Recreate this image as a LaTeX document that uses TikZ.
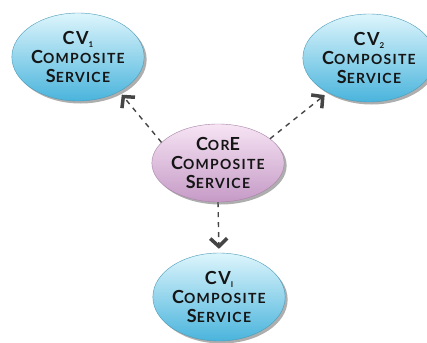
\documentclass[tikz,border=0pt]{standalone}
\usepackage{fontspec}
\setmainfont{Lato}
\newfontfamily\lsfont[LetterSpace=9]{Lato}
\usetikzlibrary{shapes.geometric,arrows.meta,shadows}
\definecolor{txt}{HTML}{151515}
\definecolor{arr}{HTML}{454545}
\definecolor{bluetop}{HTML}{DDF5FC}
\definecolor{bluebot}{HTML}{4AB4DC}
\definecolor{bluerim}{HTML}{4A9CB8}
\definecolor{pinktop}{HTML}{F6E4F4}
\definecolor{pinkbot}{HTML}{C59AC6}
\definecolor{pinkrim}{HTML}{A883A8}
\newcommand{\Bg}[1]{{\fontsize{18}{19}\selectfont #1}}
\newcommand{\Sml}[1]{{\fontsize{14}{19}\selectfont #1}}
\newcommand{\Sub}[1]{\raisebox{-2.5pt}{\fontsize{8}{8}\selectfont #1}}
\newcommand{\Comp}{\Bg{C}\Sml{OMPOSITE}}
\newcommand{\Serv}{\Bg{S}\Sml{ERVICE}}
\tikzset{
  svc/.style={ellipse, inner sep=0pt, align=center, text=txt,
    font=\lsfont\bfseries\fontsize{14}{19}\selectfont,
    line width=0.4pt,
    drop shadow={shadow xshift=2.5pt, shadow yshift=-2.5pt, opacity=0.45, fill=black!70}},
  bluesvc/.style={svc, draw=bluerim, top color=bluetop, bottom color=bluebot,
    minimum width=126pt, minimum height=88pt},
  pinksvc/.style={svc, draw=pinkrim, top color=pinktop, bottom color=pinkbot,
    minimum width=122pt, minimum height=78pt},
  conn/.style={draw=arr, line width=1.4pt, dash pattern=on 5pt off 5pt,
    shorten >=4pt,
    -{Straight Barb[length=8pt, width=17pt, line width=3.5pt]}}
}
\begin{document}
\begin{tikzpicture}[x=1pt,y=-1pt]
\useasboundingbox[fill=white] (0,0) rectangle (427,342);
\node[bluesvc] (cv1) at (78,57) {\Bg{CV}\Sub{1}\\\Comp\\\Serv};
\node[bluesvc] (cv2) at (369,58) {\Bg{CV}\Sub{2}\\\Comp\\\Serv};
\node[pinksvc] (core) at (218,163) {\Bg{C}\Sml{OR}\Bg{E}\\\Comp\\\Serv};
\node[bluesvc] (cvi) at (219,297) {\Bg{CV}\Sub{I}\\\Comp\\\Serv};
\draw[conn] (core.160) -- (cv1.-40);
\draw[conn] (core.25) -- (cv2.-140);
\draw[conn] (core.south) -- (cvi.north);
\end{tikzpicture}
\end{document}
